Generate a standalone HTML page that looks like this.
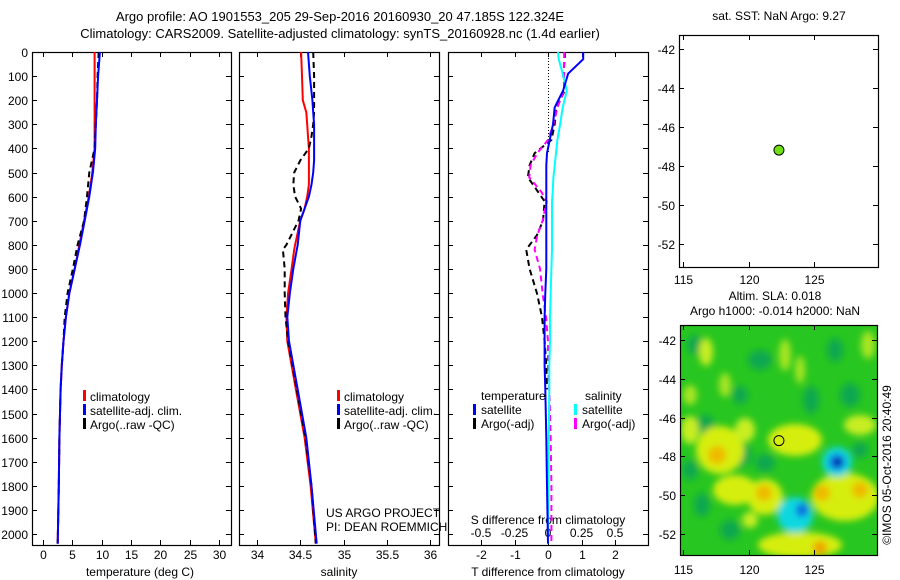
<!DOCTYPE html>
<html><head><meta charset="utf-8"><style>
body{margin:0;background:#fff;}
svg{display:block;font-family:"Liberation Sans",sans-serif;}
text{font-size:12px;fill:#000;}
</style></head><body>
<svg id="c" width="900" height="580" viewBox="0 0 900 580">
<defs>
<filter id="bl" x="-50%" y="-50%" width="200%" height="200%"><feGaussianBlur stdDeviation="3.5"/></filter>
<clipPath id="mapclip"><rect x="680" y="325" width="197" height="230"/></clipPath>
</defs>
<text x="340" y="21" text-anchor="middle" style="font-size:13px">Argo profile: AO 1901553_205 29-Sep-2016 20160930_20 47.185S 122.324E</text>
<text x="340" y="38" text-anchor="middle" style="font-size:13px">Climatology: CARS2009. Satellite-adjusted climatology: synTS_20160928.nc (1.4d earlier)</text>
<g id="heat" clip-path="url(#mapclip)">
<rect x="680" y="325" width="197" height="230" fill="#28c620"/>
<g filter="url(#bl)">
<ellipse cx="705" cy="425" rx="10" ry="10" fill="#10a850"/>
<ellipse cx="740" cy="455" rx="12" ry="12" fill="#10a850"/>
<ellipse cx="765" cy="463" rx="10" ry="9" fill="#10a850"/>
<ellipse cx="811" cy="400" rx="8" ry="14" fill="#10a850"/>
<ellipse cx="850" cy="395" rx="10" ry="12" fill="#10a850"/>
<ellipse cx="740" cy="395" rx="8" ry="9" fill="#10a850"/>
<ellipse cx="702" cy="505" rx="8" ry="12" fill="#10a850"/>
<ellipse cx="760" cy="360" rx="12" ry="10" fill="#10a850"/>
<ellipse cx="690" cy="470" rx="8" ry="10" fill="#10a850"/>
<ellipse cx="695" cy="345" rx="8" ry="10" fill="#10a850"/>
<ellipse cx="835" cy="350" rx="8" ry="12" fill="#10a850"/>
<ellipse cx="730" cy="530" rx="10" ry="10" fill="#10a850"/>
<ellipse cx="860" cy="450" rx="8" ry="8" fill="#10a850"/>
<ellipse cx="720" cy="450" rx="24" ry="24" fill="#d6ee10"/>
<ellipse cx="735" cy="490" rx="22" ry="15" fill="#d6ee10"/>
<ellipse cx="795" cy="440" rx="27" ry="16" fill="#d6ee10"/>
<ellipse cx="765" cy="497" rx="18" ry="18" fill="#d6ee10"/>
<ellipse cx="845" cy="497" rx="34" ry="24" fill="#d6ee10"/>
<ellipse cx="800" cy="545" rx="42" ry="13" fill="#d6ee10"/>
<ellipse cx="745" cy="430" rx="10" ry="12" fill="#c8ee20"/>
<ellipse cx="706" cy="352" rx="7" ry="14" fill="#c8ee20"/>
<ellipse cx="690" cy="430" rx="9" ry="14" fill="#c8ee20"/>
<ellipse cx="860" cy="425" rx="16" ry="10" fill="#c8ee20"/>
<ellipse cx="725" cy="385" rx="6" ry="12" fill="#a8e620"/>
<ellipse cx="785" cy="355" rx="6" ry="16" fill="#a8e620"/>
<ellipse cx="800" cy="370" rx="5" ry="14" fill="#a8e620"/>
<ellipse cx="868" cy="345" rx="7" ry="14" fill="#a8e620"/>
<ellipse cx="690" cy="395" rx="7" ry="10" fill="#a8e620"/>
<ellipse cx="750" cy="520" rx="8" ry="8" fill="#c8ee20"/>
<ellipse cx="717" cy="455" rx="9" ry="9" fill="#f0b800"/>
<ellipse cx="764" cy="493" rx="8" ry="8" fill="#f0b800"/>
<ellipse cx="822" cy="493" rx="8" ry="8" fill="#f0b800"/>
<ellipse cx="860" cy="490" rx="8" ry="8" fill="#f0b800"/>
<ellipse cx="820" cy="548" rx="7" ry="7" fill="#f0a000"/>
<ellipse cx="837" cy="462" rx="15" ry="15" fill="#10d8e0"/>
<ellipse cx="837" cy="462" rx="8" ry="8" fill="#1060e0"/>
<ellipse cx="838" cy="462" rx="4" ry="4" fill="#001090"/>
<ellipse cx="795" cy="515" rx="18" ry="18" fill="#10d8e0"/>
<ellipse cx="802" cy="510" rx="6" ry="7" fill="#1060e0"/>
</g>
</g>
<g id="g"></g>
<text x="779" y="20" text-anchor="middle">sat. SST: NaN Argo: 9.27</text>
<text x="775" y="300" text-anchor="middle">Altim. SLA: 0.018</text>
<text x="775" y="315" text-anchor="middle">Argo h1000: -0.014 h2000: NaN</text>
<text transform="translate(891,465) rotate(-90)" text-anchor="middle">©IMOS 05-Oct-2016 20:40:49</text>
<text x="326" y="517">US ARGO PROJECT</text>
<text x="326" y="531">PI: DEAN ROEMMICH</text>
</svg>
<script>
const depthTicks=[0,100,200,300,400,500,600,700,800,900,1000,1100,1200,1300,1400,1500,1600,1700,1800,1900,2000];
const tempTicks=[0,5,10,15,20,25,30];
const salTicks=[34,34.5,35,35.5,36];
const tdTicks=[-2,-1,0,1,2];
const sdTicks=[-0.5,-0.25,0,0.25,0.5];
const latTicks=[-42,-44,-46,-48,-50,-52];
const lonTicks=[115,120,125];
const tempDepth=[0,100,200,300,400,500,600,700,800,900,1000,1100,1200,1300,1400,1600,1800,2040];
const tempClim=[8.8,8.8,8.8,8.8,8.8,8.4,7.8,7.0,6.2,5.4,4.5,3.9,3.5,3.2,3.0,2.8,2.7,2.5];
const tempSat=[9.7,9.4,9.2,9.0,8.9,8.5,7.9,7.1,6.3,5.4,4.5,3.9,3.5,3.2,3.0,2.8,2.7,2.5];
const tempArgo=[9.5,9.3,9.2,9.0,8.8,7.9,7.5,7.0,5.9,5.1,4.2,3.7,3.5,3.2,3.0,2.8,2.7,2.5];
const salDepth=[0,100,200,250,300,350,400,450,500,550,600,650,700,800,820,900,1000,1100,1200,1400,1600,1800,2040];
const salClim=[34.51,34.52,34.53,34.57,34.58,34.59,34.6,34.6,34.6,34.6,34.58,34.55,34.5,34.44,34.43,34.4,34.36,34.34,34.35,34.45,34.55,34.62,34.68];
const salSat=[34.59,34.61,34.64,34.65,34.66,34.66,34.66,34.66,34.65,34.63,34.6,34.55,34.5,34.47,34.46,34.42,34.38,34.35,34.37,34.47,34.57,34.63,34.69];
const salArgo=[34.65,34.66,34.66,34.66,34.65,34.63,34.6,34.5,34.43,34.42,34.44,34.51,34.48,34.34,34.3,34.32,34.32,34.33,34.36,34.46,34.56,34.63,34.68];
const dDepth=[0,30,90,160,230,300,365,420,470,520,580,620,700,760,820,900,1000,1100,1200,1300,1400,1600,1800,2040];
const dTSat=[1.05,1.05,0.6,0.45,0.2,0.15,0.05,-0.03,-0.05,-0.05,-0.05,-0.05,-0.05,-0.05,-0.05,-0.05,-0.08,-0.1,-0.1,-0.1,-0.08,-0.05,-0.03,0];
const dSSat=[0.075,0.08,0.11,0.14,0.11,0.09,0.07,0.06,0.05,0.04,0.035,0.03,0.03,0.03,0.03,0.025,0.02,0.015,0.015,0.01,0.01,0.005,0.005,0];
const dTArgo=[0.5,0.5,0.45,0.5,0.25,0.2,0.1,-0.4,-0.55,-0.6,-0.3,-0.1,-0.15,-0.33,-0.65,-0.55,-0.33,-0.18,-0.1,-0.05,-0.03,null,null,null];
const dSArgo=[0.12,0.12,0.12,0.12,0.07,0.04,0,-0.08,-0.13,-0.14,-0.05,-0.01,-0.04,-0.08,-0.1,-0.06,-0.04,-0.015,0,0,0.01,0.02,0.025,0.025];
const argoLon=122.324, argoLat=-47.185;

const NS='http://www.w3.org/2000/svg';
const g=document.getElementById('g');
function el(t,a){const e=document.createElementNS(NS,t);for(const k in a)e.setAttribute(k,a[k]);g.appendChild(e);return e;}
function lin(d0,d1,r0,r1){return v=>r0+(v-d0)*(r1-r0)/(d1-d0);}
const yD=lin(0,2000,52,534);
const P1={x0:32,x1:231,y0:52,y1:545}, P2={x0:239,x1:439,y0:52,y1:545}, P3={x0:448,x1:648,y0:52,y1:545};
const xT=lin(0,30,43,219), xS=lin(34,36,257,430), xTD=lin(-2,2,481,615), xSD=v=>xTD(v*4);
const M1={x0:679,x1:878,y0:35,y1:267}, M2={x0:680,x1:877,y0:325,y1:555};
const xLon=lin(115,125,683,814), yLat1=lin(-42,-52,49,244), yLat2=lin(-42,-52,340,534);

function box(P,name){const r=el('rect',{x:P.x0+.5,y:P.y0+.5,width:P.x1-P.x0,height:P.y1-P.y0,fill:'none',stroke:'#000','stroke-width':1.2});

}
function yTicks(P,ticks,f,labels,name){ticks.forEach(t=>{const y=Math.round(f(t))+.5;
el('line',{x1:P.x0,x2:P.x0+5,y1:y,y2:y,stroke:'#000'});el('line',{x1:P.x1-5,x2:P.x1,y1:y,y2:y,stroke:'#000'});
if(labels){const tx=el('text',{x:P.x0-4,y:y+4.5,'text-anchor':'end'});tx.textContent=t;

}});}
function xTicks(P,ticks,f,ly,name,fmt,both){ticks.forEach(t=>{const x=Math.round(f(t))+.5;
el('line',{x1:x,x2:x,y1:P.y1-5,y2:P.y1,stroke:'#000'});if(both!==false)el('line',{x1:x,x2:x,y1:P.y0,y2:P.y0+5,stroke:'#000'});
if(ly){const tx=el('text',{x:x,y:ly,'text-anchor':'middle'});tx.textContent=fmt?fmt(t):t;

}});}
function path(xs,ys,fx,fy,color,dash,name,w){let d='',pen=false;xs.forEach((v,i)=>{if(v===null||v===undefined){pen=false;return;}d+=(pen?'L':'M')+fx(v).toFixed(1)+' '+fy(ys[i]).toFixed(1);pen=true;});
const p=el('path',{d:d,fill:'none',stroke:color,'stroke-width':w||2,'stroke-dasharray':dash||'none'});

}
function lab(x,y,s,name,anchor){const t=el('text',{x:x,y:y,'text-anchor':anchor||'start'});t.textContent=s;

}
function legBar(x,y,c,name){const r=el('rect',{x:x,y:y-10,width:3,height:11,fill:c});

}

// panel 1
box(P1,'temperature-axes');yTicks(P1,depthTicks,yD,true,'depth-tick-label');
xTicks(P1,tempTicks,xT,559,'temperature-tick-label');
lab(140,576,'temperature (deg C)','temperature-axis-title','middle');
path(tempClim,tempDepth,xT,yD,'#f00',null,'temperature-climatology-line');
path(tempArgo,tempDepth,xT,yD,'#000','6,4','temperature-argo-line');
path(tempSat,tempDepth,xT,yD,'#00f',null,'temperature-satellite-line');
legBar(83,400,'#f00','legend-climatology-swatch');lab(90,401,'climatology','legend-climatology');
legBar(83,414,'#00f','legend-satellite-swatch');lab(90,415,'satellite-adj. clim.','legend-satellite');
legBar(83,428,'#000','legend-argo-swatch');lab(90,429,'Argo(..raw -QC)','legend-argo');
// panel 2
box(P2,'salinity-axes');yTicks(P2,depthTicks,yD,false);
xTicks(P2,salTicks,xS,559,'salinity-tick-label');
lab(339,576,'salinity','salinity-axis-title','middle');
path(salClim,salDepth,xS,yD,'#f00',null,'salinity-climatology-line');
path(salArgo,salDepth,xS,yD,'#000','6,4','salinity-argo-line');
path(salSat,salDepth,xS,yD,'#00f',null,'salinity-satellite-line');
legBar(337,400,'#f00','legend-climatology-swatch');lab(344,401,'climatology','legend-climatology');
legBar(337,414,'#00f','legend-satellite-swatch');lab(344,415,'satellite-adj. clim.','legend-satellite');
legBar(337,428,'#000','legend-argo-swatch');lab(344,429,'Argo(..raw -QC)','legend-argo');
// panel 3
box(P3,'difference-axes');yTicks(P3,depthTicks,yD,false);
xTicks(P3,tdTicks,xTD,559,'t-difference-tick-label');
const zl=el('line',{x1:xTD(0)+.5,x2:xTD(0)+.5,y1:52,y2:yD(420),stroke:'#000','stroke-dasharray':'1,2'});


sdTicks.forEach(t=>lab(xSD(t),537,t===0?'0':String(t),'s-difference-tick-label','middle'));
lab(548,524,'S difference from climatology','s-difference-axis-title','middle');
lab(548,576,'T difference from climatology','t-difference-axis-title','middle');
path(dTArgo,dDepth,xTD,yD,'#000','6,4','t-diff-argo-line');
path(dSArgo,dDepth,xSD,yD,'#f0f','6,4','s-diff-argo-line');
path(dSSat,dDepth,xSD,yD,'#0ff',null,'s-diff-satellite-line');
path(dTSat,dDepth,xTD,yD,'#00f',null,'t-diff-satellite-line');
lab(481,400,'temperature','legend-temperature-heading');lab(585,400,'salinity','legend-salinity-heading');
legBar(473,414,'#00f','legend-t-satellite-swatch');lab(481,414,'satellite','legend-t-satellite');
legBar(473,428,'#000','legend-t-argo-swatch');lab(481,428,'Argo(-adj)','legend-t-argo');
legBar(574,414,'#0ff','legend-s-satellite-swatch');lab(582,414,'satellite','legend-s-satellite');
legBar(574,428,'#f0f','legend-s-argo-swatch');lab(582,428,'Argo(-adj)','legend-s-argo');
// map 1
box(M1,'sst-map-axes');yTicks(M1,latTicks,yLat1,true,'latitude-tick-label');
xTicks(M1,lonTicks,xLon,284,'longitude-tick-label');
const dot=el('circle',{cx:xLon(argoLon),cy:yLat1(argoLat),r:5,fill:'#70e010',stroke:'#000'});


// map 2
box(M2,'sla-map-axes');yTicks(M2,latTicks,yLat2,true,'latitude-tick-label');
xTicks(M2,lonTicks,xLon,574,'longitude-tick-label');
const c2=el('circle',{cx:xLon(argoLon),cy:yLat2(argoLat),r:5,fill:'none',stroke:'#000'});


</script>
</body></html>
